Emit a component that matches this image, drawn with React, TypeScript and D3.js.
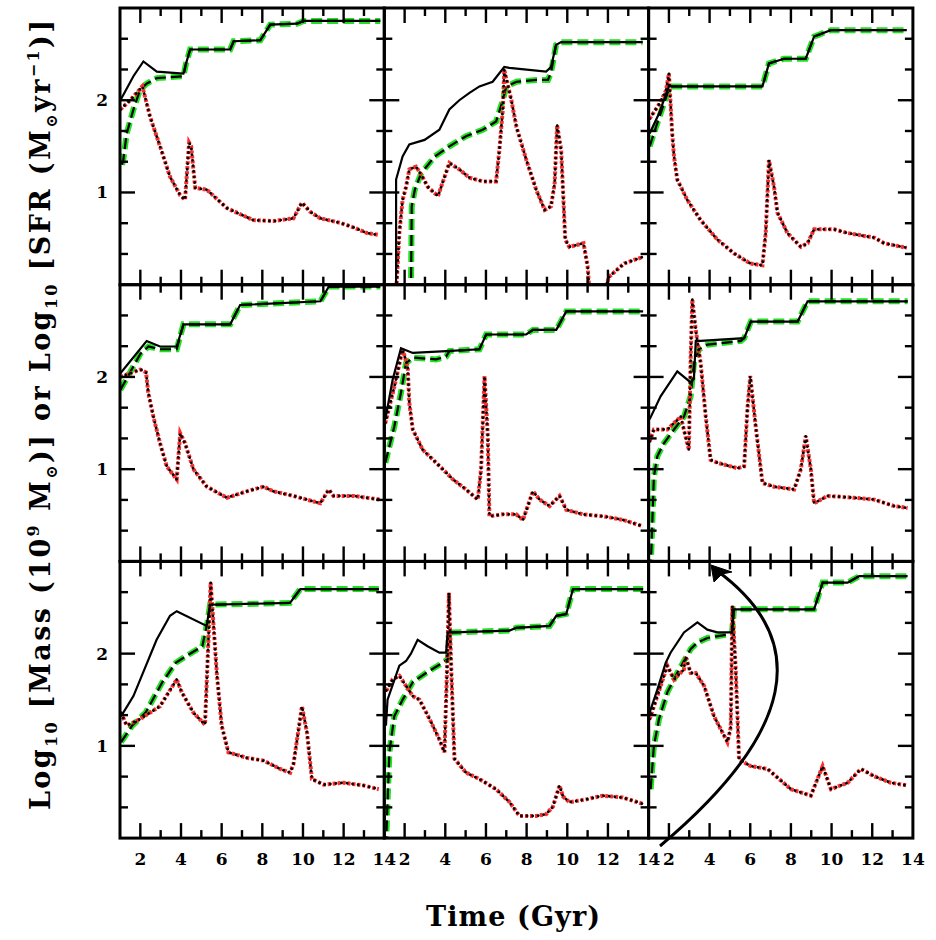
import React from "react";
import * as d3 from "d3";

type Pt = [number, number];

const timeTickLabels = [2, 4, 6, 8, 10, 12, 14];
const valueTickLabels = [1, 2];
const xTitle = "Time (Gyr)";

// Panel 1 (top-left)
const p1Total: Pt[] = [[1.02,2.0],[1.66,2.26],[2.15,2.42],[2.81,2.31],[4.12,2.29],[4.25,2.4],[4.45,2.55],[6.42,2.55],[6.59,2.64],[7.9,2.65],[8.1,2.72],[8.39,2.82],[9.7,2.83],[10.03,2.86],[13.8,2.86]];
const p1Stellar: Pt[] = [[1.1,1.3],[1.16,1.35],[1.33,1.64],[1.66,1.9],[1.98,2.11],[2.31,2.18],[2.81,2.24],[4.12,2.26],[4.25,2.4],[4.45,2.55],[6.42,2.55],[6.59,2.64],[7.9,2.65],[8.1,2.72],[8.39,2.82],[9.7,2.83],[10.03,2.86],[13.8,2.86]];
const p1Sfr: Pt[] = [[1.02,1.9],[1.5,2.0],[2.1,2.15],[2.48,1.82],[2.97,1.5],[3.46,1.17],[3.96,0.97],[4.2,0.92],[4.4,1.54],[4.5,1.5],[4.7,1.05],[5.27,1.03],[6.26,0.83],[7.56,0.7],[8.55,0.69],[9.53,0.72],[9.95,0.89],[10.36,0.79],[10.85,0.72],[11.84,0.67],[12.5,0.62],[13.15,0.56],[13.7,0.54]];

// Panel 2 (top-middle)
const p2Total: Pt[] = [[1.58,-0.1],[1.58,1.14],[1.9,1.39],[2.23,1.52],[2.98,1.57],[3.71,1.68],[4.2,1.9],[4.69,2.0],[5.19,2.08],[5.68,2.15],[6.33,2.2],[6.9,2.36],[7.15,2.35],[8.96,2.31],[9.2,2.36],[9.45,2.6],[9.7,2.63],[13.7,2.63]];
const p2Stellar: Pt[] = [[2.31,-0.1],[2.35,0.85],[2.5,1.03],[2.82,1.21],[3.48,1.39],[4.2,1.5],[5.02,1.61],[5.84,1.68],[6.5,1.77],[6.83,2.0],[7.0,2.15],[7.5,2.2],[8.47,2.22],[9.05,2.22],[9.2,2.3],[9.45,2.6],[9.7,2.63],[13.7,2.63]];
const p2Sfr: Pt[] = [[1.58,-0.1],[1.74,0.56],[1.9,0.92],[2.07,1.06],[2.23,1.25],[2.56,1.28],[2.8,1.2],[3.14,1.06],[3.64,0.96],[4.2,1.32],[4.69,1.25],[5.19,1.16],[5.84,1.12],[6.5,1.12],[6.66,1.46],[6.83,1.9],[6.9,2.33],[7.25,2.0],[7.5,1.71],[7.99,1.35],[8.47,1.03],[8.89,0.81],[9.2,0.85],[9.38,1.1],[9.5,1.73],[9.7,1.46],[9.9,0.49],[10.1,0.41],[10.8,0.45],[11.0,0.2],[11.1,-0.1],[11.6,-0.2],[12.07,0.09],[12.8,0.23],[13.7,0.3]];

// Panel 3 (top-right)
const p3Total: Pt[] = [[1.05,1.64],[1.5,1.85],[2.0,2.15],[6.6,2.15],[6.92,2.4],[7.66,2.45],[8.73,2.45],[9.14,2.69],[9.96,2.76],[13.7,2.76]];
const p3Stellar: Pt[] = [[1.05,1.5],[1.5,1.8],[2.0,2.12],[2.1,2.15],[6.6,2.15],[6.92,2.4],[7.66,2.45],[8.73,2.45],[9.14,2.69],[9.96,2.76],[13.7,2.76]];
const p3Sfr: Pt[] = [[1.05,1.8],[1.5,1.95],[1.85,2.1],[2.0,2.29],[2.16,1.64],[2.25,1.39],[2.41,1.14],[2.9,0.92],[3.56,0.7],[4.38,0.49],[5.2,0.34],[6.0,0.23],[6.6,0.21],[6.76,0.56],[6.92,1.35],[7.17,1.06],[7.34,0.78],[7.83,0.56],[8.49,0.41],[8.82,0.45],[9.14,0.6],[10.13,0.6],[10.79,0.56],[12.1,0.51],[12.58,0.45],[13.7,0.4]];

// Panel 4 (middle-left)
const p4Total: Pt[] = [[1.02,2.04],[2.31,2.39],[2.97,2.33],[3.79,2.33],[4.12,2.57],[6.42,2.57],[6.91,2.78],[10.86,2.82],[11.27,2.98],[13.8,2.98]];
const p4Stellar: Pt[] = [[1.02,1.86],[1.5,2.05],[2.0,2.25],[2.4,2.33],[2.97,2.3],[3.79,2.3],[4.12,2.57],[6.42,2.57],[6.91,2.78],[10.86,2.82],[11.27,2.98],[13.8,2.98]];
const p4Sfr: Pt[] = [[1.02,2.0],[1.5,2.04],[2.0,2.08],[2.28,2.05],[2.39,1.83],[2.64,1.57],[2.97,1.28],[3.3,1.03],[3.79,0.89],[3.96,1.39],[4.2,1.28],[4.61,1.0],[5.27,0.81],[6.26,0.69],[7.24,0.76],[8.06,0.81],[8.55,0.76],[9.53,0.71],[10.85,0.63],[11.27,0.78],[11.5,0.71],[12.5,0.71],[13.8,0.67]];

// Panel 5 (center)
const p5Total: Pt[] = [[1.05,1.54],[1.41,1.97],[1.82,2.31],[2.4,2.26],[4.04,2.28],[5.68,2.3],[6.01,2.46],[7.98,2.46],[8.31,2.51],[9.46,2.51],[9.95,2.71],[13.73,2.71]];
const p5Stellar: Pt[] = [[1.05,1.07],[1.49,1.46],[1.82,1.83],[2.07,2.15],[2.4,2.21],[3.55,2.19],[4.04,2.22],[4.2,2.28],[5.68,2.3],[6.01,2.46],[7.98,2.46],[8.31,2.51],[9.46,2.51],[9.95,2.71],[13.73,2.71]];
const p5Sfr: Pt[] = [[1.05,1.5],[1.5,1.9],[1.9,2.3],[2.15,2.11],[2.23,1.72],[2.4,1.43],[2.89,1.21],[3.55,1.07],[4.37,0.89],[5.02,0.78],[5.6,0.67],[5.76,1.0],[5.93,2.01],[6.09,1.36],[6.17,0.49],[6.83,0.51],[7.49,0.51],[7.82,0.45],[8.31,0.76],[8.64,0.67],[9.13,0.6],[9.62,0.71],[9.95,0.56],[10.77,0.51],[11.76,0.49],[12.74,0.45],[13.73,0.38]];

// Panel 6 (middle-right)
const p6Total: Pt[] = [[1.05,1.54],[1.59,1.79],[2.41,2.06],[3.07,1.94],[3.23,1.98],[3.32,2.39],[3.56,2.39],[5.7,2.42],[6.03,2.6],[8.33,2.6],[8.82,2.82],[13.74,2.82]];
const p6Stellar: Pt[] = [[1.1,-0.1],[1.26,0.92],[1.43,1.14],[1.75,1.28],[2.25,1.43],[2.74,1.57],[3.07,1.79],[3.23,2.15],[3.48,2.3],[3.89,2.35],[5.54,2.39],[5.7,2.42],[6.03,2.6],[8.33,2.6],[8.82,2.82],[13.74,2.82]];
const p6Sfr: Pt[] = [[1.05,1.3],[1.26,1.43],[1.92,1.43],[2.58,1.57],[2.9,1.28],[2.98,1.21],[3.07,2.22],[3.15,2.84],[3.32,2.51],[3.56,2.15],[3.81,1.57],[4.05,1.1],[4.38,1.07],[5.37,1.01],[5.7,1.03],[5.86,1.65],[6.0,2.01],[6.27,1.46],[6.6,0.85],[7.17,0.81],[8.16,0.78],[8.49,1.0],[8.73,1.36],[8.98,1.0],[9.14,0.63],[9.8,0.71],[11.11,0.69],[12.1,0.67],[13.08,0.6],[13.74,0.58]];

// Panel 7 (bottom-left)
const p7Total: Pt[] = [[1.05,1.32],[1.66,1.54],[2.8,2.15],[3.46,2.41],[3.79,2.46],[5.26,2.3],[5.43,2.53],[9.36,2.55],[9.87,2.7],[13.73,2.7]];
const p7Stellar: Pt[] = [[1.05,1.04],[1.6,1.22],[2.26,1.36],[3.08,1.69],[3.74,1.9],[4.23,1.97],[5.05,2.08],[5.3,2.34],[5.43,2.53],[9.36,2.55],[9.87,2.7],[13.73,2.7]];
const p7Sfr: Pt[] = [[1.05,1.36],[1.33,1.22],[1.98,1.29],[2.97,1.43],[3.79,1.72],[4.04,1.58],[4.61,1.36],[5.18,1.23],[5.35,2.15],[5.46,2.77],[5.59,2.34],[5.76,1.79],[6.0,1.22],[6.33,0.93],[7.24,0.87],[8.06,0.84],[8.88,0.75],[9.37,0.71],[9.53,0.8],[9.95,1.43],[10.2,1.14],[10.44,0.64],[11.02,0.58],[12.0,0.6],[12.99,0.57],[13.73,0.53]];

// Panel 8 (bottom-middle)
const p8Total: Pt[] = [[1.08,1.22],[1.16,1.5],[1.74,1.87],[2.07,1.92],[2.31,2.0],[2.64,2.15],[3.13,2.08],[3.71,2.01],[4.04,2.01],[4.12,2.23],[4.37,2.23],[7.16,2.25],[7.49,2.28],[9.13,2.3],[9.46,2.41],[9.95,2.43],[10.28,2.7],[13.73,2.7]];
const p8Stellar: Pt[] = [[1.08,-0.1],[1.25,0.93],[1.49,1.32],[1.9,1.5],[2.4,1.69],[3.05,1.79],[3.71,1.88],[4.12,1.94],[4.2,2.23],[4.37,2.23],[7.16,2.25],[7.49,2.28],[9.13,2.3],[9.46,2.41],[9.95,2.43],[10.28,2.7],[13.73,2.7]];
const p8Sfr: Pt[] = [[1.1,1.6],[1.41,1.72],[1.74,1.76],[2.07,1.65],[2.4,1.54],[2.73,1.5],[3.23,1.29],[3.71,1.07],[3.96,0.93],[4.08,1.79],[4.18,2.66],[4.3,1.79],[4.45,0.86],[5.02,0.71],[5.68,0.64],[6.5,0.53],[7.16,0.39],[7.65,0.24],[8.47,0.24],[8.96,0.26],[9.29,0.34],[9.62,0.57],[9.79,0.45],[10.11,0.39],[10.93,0.42],[11.75,0.46],[12.73,0.44],[13.73,0.37]];

// Panel 9 (bottom-right)
const p9Total: Pt[] = [[1.05,1.36],[1.43,1.61],[1.84,1.9],[2.08,2.01],[2.74,2.23],[3.4,2.34],[3.89,2.26],[4.38,2.23],[5.1,2.23],[5.2,2.48],[9.14,2.48],[9.56,2.77],[10.79,2.77],[11.36,2.84],[13.74,2.84]];
const p9Stellar: Pt[] = [[1.1,0.53],[1.26,1.0],[1.51,1.29],[1.92,1.58],[2.41,1.79],[3.07,2.05],[3.4,2.12],[3.89,2.17],[4.96,2.21],[5.1,2.22],[5.2,2.48],[9.14,2.48],[9.56,2.77],[10.79,2.77],[11.36,2.84],[13.74,2.84]];
const p9Sfr: Pt[] = [[1.05,1.29],[1.43,1.54],[1.92,1.87],[2.25,1.72],[2.74,1.83],[2.82,1.97],[3.07,1.79],[3.32,1.79],[3.73,1.65],[4.22,1.32],[4.88,1.04],[5.04,1.2],[5.12,2.52],[5.29,1.8],[5.45,0.85],[6.03,0.78],[6.85,0.75],[8.0,0.53],[8.98,0.46],[9.56,0.78],[9.97,0.53],[10.79,0.6],[11.44,0.75],[12.1,0.67],[12.92,0.6],[13.74,0.57]];

const panels = [
  { total: p1Total, stellar: p1Stellar, sfr: p1Sfr },
  { total: p2Total, stellar: p2Stellar, sfr: p2Sfr },
  { total: p3Total, stellar: p3Stellar, sfr: p3Sfr },
  { total: p4Total, stellar: p4Stellar, sfr: p4Sfr },
  { total: p5Total, stellar: p5Stellar, sfr: p5Sfr },
  { total: p6Total, stellar: p6Stellar, sfr: p6Sfr },
  { total: p7Total, stellar: p7Stellar, sfr: p7Sfr },
  { total: p8Total, stellar: p8Stellar, sfr: p8Sfr },
  { total: p9Total, stellar: p9Stellar, sfr: p9Sfr },
];

const LEFT = 120;
const TOP = 8;
const PW = 264.3;
const PH = 276.7;
const FONT = "'DejaVu Serif', 'Liberation Serif', serif";

export default function App() {
  const x = d3.scaleLinear().domain([1, 14]).range([0, PW]);
  const y = d3.scaleLinear().domain([0, 3]).range([PH, 0]);
  const line = d3.line<Pt>().x((d) => x(d[0])).y((d) => y(d[1]));
  const xTicks = d3.range(2, 14);
  const yTicks = d3.range(1, 9).map((k) => k / 3);
  const tickLen = (major: boolean) => (major ? 15 : 8);

  return (
    <svg width={936} height={940} style={{ display: "block", position: "absolute", left: 0, top: 0 }}>
      <rect width={936} height={940} fill="#fff" />
      <defs>
        <clipPath id="pclip">
          <rect x={0} y={0} width={PW} height={PH} />
        </clipPath>
      </defs>
      {panels.map((p, i) => {
        const c = i % 3;
        const r = Math.floor(i / 3);
        return (
          <g key={i} transform={`translate(${LEFT + c * PW},${TOP + r * PH})`}>
            <g clipPath="url(#pclip)">
              <path d={line(p.stellar) || ""} fill="none" stroke="#22e022" strokeWidth={6} strokeDasharray="11,5" />
              <path d={line(p.stellar) || ""} fill="none" stroke="#000" strokeWidth={2.2} strokeDasharray="11,5" />
              <path d={line(p.sfr) || ""} fill="none" stroke="#ff2a2a" strokeWidth={4} strokeDasharray="3,2" />
              <path d={line(p.sfr) || ""} fill="none" stroke="#000" strokeWidth={2.8} strokeLinecap="round" strokeDasharray="0.1,5.5" />
              <path d={line(p.total) || ""} fill="none" stroke="#000" strokeWidth={2.2} />
            </g>
            {xTicks.map((t) => {
              const major = t % 2 === 0;
              const L = tickLen(major);
              return (
                <g key={"xt" + t} stroke="#000" strokeWidth={2.4}>
                  <line x1={x(t)} x2={x(t)} y1={PH} y2={PH - L} />
                  <line x1={x(t)} x2={x(t)} y1={0} y2={L} />
                </g>
              );
            })}
            {yTicks.map((v, k) => {
              const major = (k + 1) % 3 === 0;
              const L = tickLen(major);
              return (
                <g key={"yt" + k} stroke="#000" strokeWidth={2.4}>
                  <line x1={0} x2={L} y1={y(v)} y2={y(v)} />
                  <line x1={PW} x2={PW - L} y1={y(v)} y2={y(v)} />
                </g>
              );
            })}
            <rect x={0} y={0} width={PW} height={PH} fill="none" stroke="#000" strokeWidth={3} />
            {r === 2 &&
              timeTickLabels.map((t) => (
                <text key={"xl" + t} x={x(t)} y={PH + 27} textAnchor="middle" fontFamily={FONT} fontWeight="bold" fontSize={17}>
                  {t}
                </text>
              ))}
            {c === 0 &&
              valueTickLabels.map((v) => (
                <text key={"yl" + v} x={-12} y={y(v) + 6} textAnchor="end" fontFamily={FONT} fontWeight="bold" fontSize={17}>
                  {v}
                </text>
              ))}
          </g>
        );
      })}
      <text
        x={513}
        y={926}
        textAnchor="middle"
        fontFamily={FONT}
        fontWeight="bold"
        fontSize={27}
        textLength={174}
        lengthAdjust="spacing"
      >
        {xTitle}
      </text>
      <text
        transform="translate(50,415) rotate(-90)"
        textAnchor="middle"
        fontFamily={FONT}
        fontWeight="bold"
        fontSize={27}
        textLength={790}
        lengthAdjust="spacing"
      >
        <tspan>Log</tspan>
        <tspan fontSize={16} dy={7}>10</tspan>
        <tspan dy={-7}> [Mass (10</tspan>
        <tspan fontSize={16} dy={-11}>9</tspan>
        <tspan dy={11}> M</tspan>
        <tspan fontSize={16} dy={7}>⊙</tspan>
        <tspan dy={-7}>)] or Log</tspan>
        <tspan fontSize={16} dy={7}>10</tspan>
        <tspan dy={-7}> [SFR (M</tspan>
        <tspan fontSize={16} dy={7}>⊙</tspan>
        <tspan dy={-7}>yr</tspan>
        <tspan fontSize={16} dy={-11}>−1</tspan>
        <tspan dy={11}>)]</tspan>
      </text>
      <path d="M660,846 Q862,676 716,570" fill="none" stroke="#000" strokeWidth={3} />
      <path d="M711,565 L732,572 L722,574 L714,582 Z" fill="#000" stroke="#000" strokeWidth={1} />
    </svg>
  );
}
